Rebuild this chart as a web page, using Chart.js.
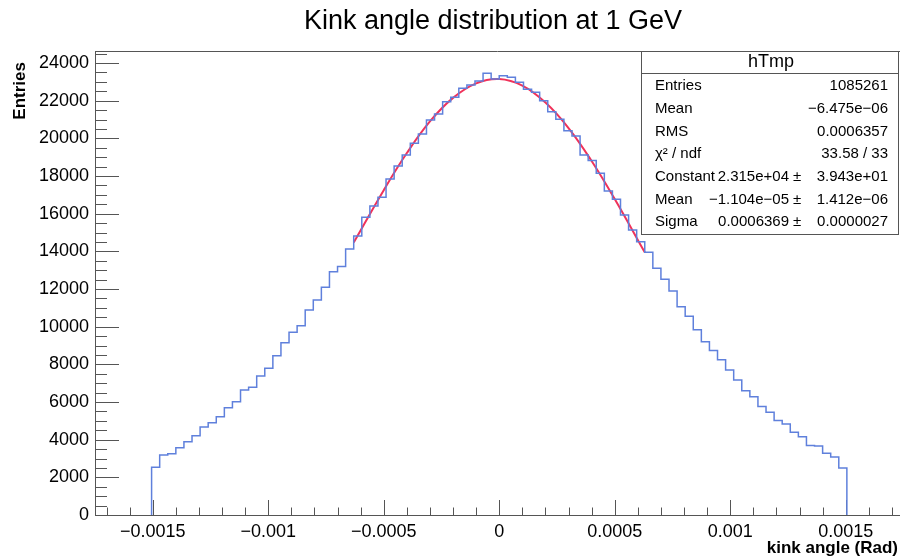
<!DOCTYPE html>
<html lang="en">
<head>
<meta charset="UTF-8">
<title>Kink angle distribution at 1 GeV</title>
<style>
  html, body { margin: 0; padding: 0; background: #fff; }
  #wrap { width: 900px; height: 560px; }
</style>
<script src="https://cdn.jsdelivr.net/npm/chart.js"></script>
</head>
<body>
<div id="wrap"><canvas id="kink"></canvas></div>
<script>
// histogram binning: 100 bins over [-0.00175, 0.00175], bins 7..92 filled
const binLow = -0.00175;
const binWidth = 0.000035;
const firstBin = 7;
const counts = [
  2533, 3186, 3256, 3575, 3894, 4213, 4673, 4903, 5222, 5700,
  6018, 6640, 6782, 7382, 7790, 8460, 9151, 9700, 10050, 10890,
  11420, 12090, 12920, 13190, 14130, 14820, 15810, 16410, 16870, 17840,
  18530, 19120, 19740, 20230, 20980, 21300, 21950, 22180, 22660, 22840,
  23050, 23460, 23150, 23330, 23250, 22980, 22610, 22450, 22000, 21420,
  21010, 20410, 20130, 19120, 18820, 18150, 17210, 16770, 15930, 15140,
  14510, 13950, 13100, 12520, 11900, 11060, 10550, 9840, 9200, 8730,
  8250, 7700, 7170, 6600, 6280, 5760, 5450, 5020, 4830, 4390,
  4150, 3690, 3670, 3275, 3080, 2490
];

// gaussian fit curve
const fitX = [-0.00063, -0.0005, -0.0004, -0.0003, -0.0002, -0.0001, 0, 0.0001, 0.0002, 0.0003, 0.0004, 0.0005, 0.00063];
const fitY = [14470, 17250, 19220, 20900, 22150, 22920, 23150, 22800, 21900, 20550, 18800, 16780, 13950];

const xTicks = [-0.0015, -0.001, -0.0005, 0, 0.0005, 0.001, 0.0015];
const xTickLabels = ['\u22120.0015', '\u22120.001', '\u22120.0005', '0', '0.0005', '0.001', '0.0015'];
const yTicks = [0, 2000, 4000, 6000, 8000, 10000, 12000, 14000, 16000, 18000, 20000, 22000, 24000];

const statsTitle = 'hTmp';
const statsRows = [
  ['Entries', '1085261'],
  ['Mean', '\u22126.475e\u221206'],
  ['RMS', '0.0006357'],
  ['\u03c7\u00b2 / ndf', '33.58 / 33'],
  ['Constant', '2.315e+04', '3.943e+01'],
  ['Mean', '\u22121.104e\u221205', '1.412e\u221206'],
  ['Sigma', '0.0006369', '0.0000027']
];

const FONT = "'Liberation Sans', Arial, Helvetica, sans-serif";
const AXIS = '#555';

// outline points: step up at the first edge, hold each count to the next edge
const histPts = [{x: binLow + firstBin * binWidth, y: 0}];
counts.forEach((c, i) => histPts.push({x: binLow + (firstBin + i) * binWidth, y: c}));
histPts.push({x: binLow + (firstBin + counts.length) * binWidth, y: 0});

const fitPts = fitX.map((x, i) => ({x: x, y: fitY[i]}));

// ROOT-style frame: ticks inside, top line, title, axis titles, stats box
const rootFrame = {
  id: 'rootFrame',
  beforeDatasetsDraw(chart) {
    const {ctx, chartArea: a, scales: {x, y}} = chart;
    ctx.save();
    ctx.strokeStyle = AXIS;
    ctx.lineWidth = 1;
    ctx.beginPath();
    ctx.moveTo(a.left, a.top + 0.5);
    ctx.lineTo(a.right, a.top + 0.5);
    for (let i = -17; i <= 17; i++) {
      const px = Math.round(x.getPixelForValue(i * 0.0001)) + 0.5;
      const len = i % 5 === 0 ? 15 : 7.5;
      ctx.moveTo(px, a.bottom);
      ctx.lineTo(px, a.bottom - len);
    }
    for (let i = 0; i * 500 <= y.max; i++) {
      const py = Math.round(y.getPixelForValue(i * 500)) + 0.5;
      const len = i % 4 === 0 ? 24 : 12;
      ctx.moveTo(a.left, py);
      ctx.lineTo(a.left + len, py);
    }
    ctx.stroke();
    ctx.restore();
  },
  afterDraw(chart) {
    const {ctx} = chart;
    ctx.save();
    ctx.fillStyle = '#000';

    ctx.font = '27px ' + FONT;
    ctx.textAlign = 'center';
    ctx.textBaseline = 'middle';
    ctx.fillText('Kink angle distribution at 1 GeV', 493, 22);

    ctx.font = 'bold 17px ' + FONT;
    ctx.textAlign = 'right';
    ctx.fillText('kink angle (Rad)', 898, 548);

    ctx.save();
    ctx.translate(20, 62);
    ctx.rotate(-Math.PI / 2);
    ctx.textAlign = 'right';
    ctx.fillText('Entries', 0, 0);
    ctx.restore();

    // stats box
    const bx = 641.5, by = 51.5, bw = 257, bh = 183;
    ctx.fillStyle = '#fff';
    ctx.fillRect(bx, by, bw, bh);
    ctx.strokeStyle = AXIS;
    ctx.lineWidth = 1;
    ctx.strokeRect(bx, by, bw, bh);
    ctx.beginPath();
    ctx.moveTo(bx, 73.5);
    ctx.lineTo(bx + bw, 73.5);
    ctx.stroke();

    ctx.fillStyle = '#000';
    ctx.font = '18px ' + FONT;
    ctx.textAlign = 'center';
    ctx.fillText(statsTitle, 771, 62);

    ctx.font = '15px ' + FONT;
    statsRows.forEach((r, i) => {
      const ry = 86 + i * 22.7;
      ctx.textAlign = 'left';
      ctx.fillText(r[0], 655, ry);
      if (r.length === 2) {
        ctx.textAlign = 'right';
        ctx.fillText(r[1], 888, ry);
      } else {
        ctx.textAlign = 'right';
        ctx.fillText(r[1], 789, ry);
        ctx.textAlign = 'center';
        ctx.fillText('\u00b1', 797, ry);
        ctx.textAlign = 'right';
        ctx.fillText(r[2], 888, ry);
      }
    });
    ctx.restore();
  }
};

new Chart(document.getElementById('kink'), {
  type: 'line',
  data: {
    datasets: [
      {
        label: 'hTmp',
        data: histPts,
        stepped: 'before',
        borderColor: '#5f80dc',
        borderWidth: 1.5,
        pointRadius: 0,
        fill: false
      },
      {
        label: 'gaus',
        data: fitPts,
        borderColor: '#f0325a',
        borderWidth: 2,
        pointRadius: 0,
        tension: 0.4,
        fill: false
      }
    ]
  },
  options: {
    responsive: true,
    maintainAspectRatio: false,
    animation: false,
    layout: { padding: { top: 51, right: 0, bottom: 0, left: 0 } },
    plugins: {
      legend: { display: false },
      tooltip: { enabled: false },
      title: { display: false }
    },
    scales: {
      x: {
        type: 'linear',
        min: -0.00175,
        max: 0.001735,
        grid: { display: false, drawTicks: false, tickLength: 0 },
        border: { color: AXIS, width: 1 },
        ticks: {
          padding: 6,
          color: '#000',
          font: { family: FONT, size: 18 },
          maxRotation: 0,
          autoSkip: false,
          callback: (v, i) => xTickLabels[i]
        },
        afterBuildTicks: s => { s.ticks = xTicks.map(v => ({value: v})); },
        afterFit: s => { s.height = 45; }
      },
      y: {
        min: 0,
        max: 24640,
        grid: { display: false, drawTicks: false, tickLength: 0 },
        border: { color: AXIS, width: 1 },
        ticks: {
          padding: 6,
          color: '#000',
          font: { family: FONT, size: 18 },
          callback: v => String(v)
        },
        afterBuildTicks: s => { s.ticks = yTicks.map(v => ({value: v})); },
        afterFit: s => { s.width = 95; }
      }
    }
  },
  plugins: [rootFrame]
});
</script>
</body>
</html>
